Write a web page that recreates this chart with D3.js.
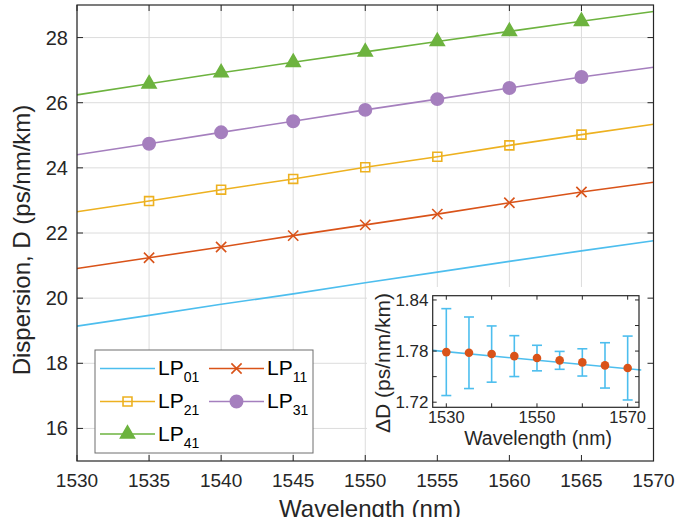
<!DOCTYPE html>
<html>
<head>
<meta charset="utf-8">
<script src="https://cdn.jsdelivr.net/npm/d3@7"></script>
<style>
  html, body { margin: 0; padding: 0; background: #fff; }
  svg { display: block; font-family: "Liberation Sans", Arial, Helvetica, sans-serif; }
</style>
</head>
<body>
<svg id="chart" width="678" height="517"></svg>
<script>
// ---------------- data ----------------
const wavelengths = [1530, 1535, 1540, 1545, 1550, 1555, 1560, 1565, 1570];
const markerWavelengths = [1535, 1540, 1545, 1550, 1555, 1560, 1565];
const lp01 = [19.14, 19.47, 19.81, 20.13, 20.47, 20.80, 21.13, 21.45, 21.76];
const lp11 = [20.91, 21.24, 21.57, 21.92, 22.25, 22.58, 22.93, 23.26, 23.56];
const lp21 = [22.65, 22.98, 23.33, 23.66, 24.02, 24.34, 24.69, 25.02, 25.34];
const lp31 = [24.40, 24.74, 25.09, 25.43, 25.78, 26.11, 26.45, 26.79, 27.09];
const lp41 = [26.24, 26.58, 26.92, 27.24, 27.56, 27.88, 28.19, 28.50, 28.80];
const seriesNames = ["01", "11", "21", "31", "41"];
const xTicks = [1530, 1535, 1540, 1545, 1550, 1555, 1560, 1565, 1570];
const yTicks = [16, 18, 20, 22, 24, 26, 28];

// inset data
const insetWavelengths = [1530, 1535, 1540, 1545, 1550, 1555, 1560, 1565, 1570];
const deltaD = [1.7788, 1.7780, 1.7765, 1.7741, 1.7718, 1.7691, 1.7667, 1.7632, 1.7601];
const deltaDErr = [0.051, 0.042, 0.033, 0.024, 0.015, 0.0105, 0.016, 0.0266, 0.0375];
const fitWavelengths = [1527, 1573];
const fitDeltaD = [1.7808, 1.7577];
const insetXTicks = [1530, 1540, 1550, 1560, 1570];
const insetXLabels = [1530, 1550, 1570];
const insetYTicks = [1.72, 1.75, 1.78, 1.81, 1.84];
const insetYLabels = [1.72, 1.78, 1.84];

// ---------------- styling ----------------
const colors = ["#4DBEEE", "#D95319", "#EDB120", "#A57FBE", "#6DB33F"];
const symbols = [null, d3.symbolX, d3.symbolSquare, d3.symbolCircle, d3.symbolTriangle];
const symSizes = [0, 70, 80, 120, 85];
const symFilled = [false, false, false, true, true];
const axisColor = "#262626";
const gridColor = "#dcdcdc";

const svg = d3.select("#chart");

const x = d3.scaleLinear().domain([1530, 1570]).range([77, 653.5]);
const y = d3.scaleLinear().domain([15, 29]).range([461, 5]);

// grid
const grid = svg.append("g");
grid.selectAll("line.gx").data(xTicks).join("line")
  .attr("x1", d => x(d)).attr("x2", d => x(d))
  .attr("y1", y(29)).attr("y2", y(15))
  .attr("stroke", gridColor).attr("stroke-width", 1);
grid.selectAll("line.gy").data(yTicks).join("line")
  .attr("y1", d => y(d)).attr("y2", d => y(d))
  .attr("x1", x(1530)).attr("x2", x(1570))
  .attr("stroke", gridColor).attr("stroke-width", 1);

// series lines + markers
const allSeries = [lp01, lp11, lp21, lp31, lp41];
const line = d3.line().x(d => x(d[0])).y(d => y(d[1]));
allSeries.forEach((vals, i) => {
  const pts = wavelengths.map((w, j) => [w, vals[j]]);
  svg.append("path").attr("d", line(pts))
    .attr("fill", "none").attr("stroke", colors[i]).attr("stroke-width", 1.6);
  if (symbols[i]) {
    const mpts = pts.filter(p => markerWavelengths.includes(p[0]));
    svg.append("g").selectAll("path").data(mpts).join("path")
      .attr("transform", d => `translate(${x(d[0])},${y(d[1])})`)
      .attr("d", d3.symbol(symbols[i], symSizes[i]))
      .attr("fill", symFilled[i] ? colors[i] : "none")
      .attr("stroke", colors[i]).attr("stroke-width", 1.6);
  }
});

// inset white background
svg.append("rect")
  .attr("x", 367).attr("y", 287)
  .attr("width", x(1570) - 367).attr("height", y(15) - 287)
  .attr("fill", "#fff");

// main frame + ticks
const frame = svg.append("g");
frame.append("rect")
  .attr("x", x(1530)).attr("y", y(29))
  .attr("width", x(1570) - x(1530)).attr("height", y(15) - y(29))
  .attr("fill", "none").attr("stroke", axisColor).attr("stroke-width", 1.2);
const tl = 6;
xTicks.forEach(t => {
  frame.append("line").attr("x1", x(t)).attr("x2", x(t)).attr("y1", y(15)).attr("y2", y(15) - tl).attr("stroke", axisColor);
  frame.append("line").attr("x1", x(t)).attr("x2", x(t)).attr("y1", y(29)).attr("y2", y(29) + tl).attr("stroke", axisColor);
  frame.append("text").attr("x", x(t)).attr("y", 487).attr("text-anchor", "middle")
    .attr("font-size", 19).attr("fill", axisColor).text(t);
});
yTicks.forEach(t => {
  frame.append("line").attr("x1", x(1530)).attr("x2", x(1530) + tl).attr("y1", y(t)).attr("y2", y(t)).attr("stroke", axisColor);
  frame.append("line").attr("x1", x(1570)).attr("x2", x(1570) - tl).attr("y1", y(t)).attr("y2", y(t)).attr("stroke", axisColor);
  frame.append("text").attr("x", 68).attr("y", y(t)).attr("dy", "0.35em").attr("text-anchor", "end")
    .attr("font-size", 20).attr("fill", axisColor).text(t);
});
svg.append("text").attr("transform", "translate(30,240) rotate(-90)")
  .attr("text-anchor", "middle").attr("font-size", 24).attr("fill", axisColor)
  .text("Dispersion, D (ps/nm/km)");
svg.append("text").attr("x", 370).attr("y", 517)
  .attr("text-anchor", "middle").attr("font-size", 24).attr("fill", axisColor)
  .text("Wavelength (nm)");

// ---------------- legend ----------------
const leg = svg.append("g");
leg.append("rect").attr("x", 95).attr("y", 350).attr("width", 218).attr("height", 103)
  .attr("fill", "#fff").attr("stroke", "#6e6e6e").attr("stroke-width", 1);
const legPos = [[100, 368.5], [209, 368.5], [100, 401.5], [209, 401.5], [100, 434]];
seriesNames.forEach((nm, i) => {
  const [lx, ly] = legPos[i];
  leg.append("line").attr("x1", lx).attr("x2", lx + 55).attr("y1", ly).attr("y2", ly)
    .attr("stroke", colors[i]).attr("stroke-width", 1.6);
  if (symbols[i]) {
    leg.append("path").attr("transform", `translate(${lx + 27.5},${ly})`)
      .attr("d", d3.symbol(symbols[i], symSizes[i]))
      .attr("fill", symFilled[i] ? colors[i] : "none")
      .attr("stroke", colors[i]).attr("stroke-width", 1.6);
  }
  const t = leg.append("text").attr("x", lx + 58).attr("y", ly + 6.5)
    .attr("font-size", 21).attr("fill", "#000");
  t.append("tspan").text("LP");
  t.append("tspan").attr("font-size", 14).attr("dy", 7).text(nm);
});

// ---------------- inset ----------------
const ix = d3.scaleLinear().domain([1527, 1572.5]).range([432.7, 639]);
const iy = d3.scaleLinear().domain([1.714, 1.845]).range([407.3, 295.7]);
const inset = svg.append("g");

inset.append("path")
  .attr("d", d3.line().x(d => ix(d[0])).y(d => iy(d[1]))(fitWavelengths.map((w, j) => [w, fitDeltaD[j]])))
  .attr("fill", "none").attr("stroke", colors[0]).attr("stroke-width", 1.6);

const errData = insetWavelengths.map((w, j) => ({ w, v: deltaD[j], e: deltaDErr[j] }));
const eb = inset.append("g").attr("stroke", colors[0]).attr("stroke-width", 1.6);
errData.forEach(d => {
  eb.append("line").attr("x1", ix(d.w)).attr("x2", ix(d.w)).attr("y1", iy(d.v - d.e)).attr("y2", iy(d.v + d.e));
  eb.append("line").attr("x1", ix(d.w) - 5).attr("x2", ix(d.w) + 5).attr("y1", iy(d.v - d.e)).attr("y2", iy(d.v - d.e));
  eb.append("line").attr("x1", ix(d.w) - 5).attr("x2", ix(d.w) + 5).attr("y1", iy(d.v + d.e)).attr("y2", iy(d.v + d.e));
});
inset.append("g").selectAll("circle").data(errData).join("circle")
  .attr("cx", d => ix(d.w)).attr("cy", d => iy(d.v)).attr("r", 4.3)
  .attr("fill", colors[1]);

inset.append("rect")
  .attr("x", ix(1527)).attr("y", iy(1.845))
  .attr("width", ix(1572.5) - ix(1527)).attr("height", iy(1.714) - iy(1.845))
  .attr("fill", "none").attr("stroke", axisColor).attr("stroke-width", 1.2);
const itl = 4;
insetXTicks.forEach(t => {
  inset.append("line").attr("x1", ix(t)).attr("x2", ix(t)).attr("y1", iy(1.714)).attr("y2", iy(1.714) - itl).attr("stroke", axisColor);
  inset.append("line").attr("x1", ix(t)).attr("x2", ix(t)).attr("y1", iy(1.845)).attr("y2", iy(1.845) + itl).attr("stroke", axisColor);
});
insetXLabels.forEach(t => {
  inset.append("text").attr("x", ix(t)).attr("y", 423).attr("text-anchor", "middle")
    .attr("font-size", 16.5).attr("fill", axisColor).text(t);
});
insetYTicks.forEach(t => {
  inset.append("line").attr("x1", ix(1527)).attr("x2", ix(1527) + itl).attr("y1", iy(t)).attr("y2", iy(t)).attr("stroke", axisColor);
  inset.append("line").attr("x1", ix(1572.5)).attr("x2", ix(1572.5) - itl).attr("y1", iy(t)).attr("y2", iy(t)).attr("stroke", axisColor);
});
insetYLabels.forEach(t => {
  inset.append("text").attr("x", 428.5).attr("y", iy(t)).attr("dy", "0.35em").attr("text-anchor", "end")
    .attr("font-size", 17).attr("fill", axisColor).text(t.toFixed(2));
});
inset.append("text").attr("transform", "translate(390,363) rotate(-90)")
  .attr("text-anchor", "middle").attr("font-size", 21).attr("fill", axisColor)
  .text("ΔD (ps/nm/km)");
inset.append("text").attr("x", 538).attr("y", 445)
  .attr("text-anchor", "middle").attr("font-size", 19.5).attr("fill", axisColor)
  .text("Wavelength (nm)");
</script>
</body>
</html>
